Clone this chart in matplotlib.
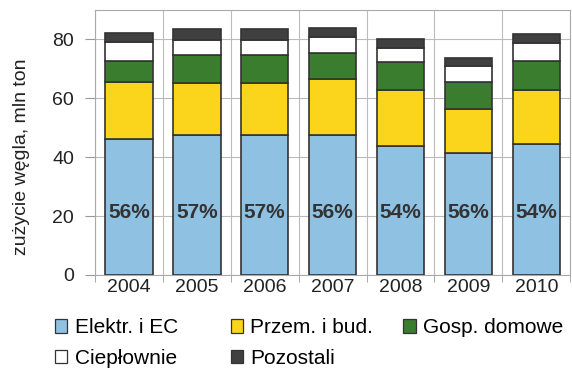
import matplotlib.pyplot as plt
import matplotlib.patches as mpatches
import numpy as np

plt.rcParams['font.family'] = ['Liberation Sans', 'DejaVu Sans']

# dane: zużycie węgla wg sektorów, mln ton
lata = ['2004', '2005', '2006', '2007', '2008', '2009', '2010']
elektr = [46.1, 47.5, 47.5, 47.5, 43.8, 41.4, 44.3]
przem = [19.5, 17.7, 17.7, 19.0, 19.1, 15.1, 18.4]
gosp = [7.2, 9.4, 9.4, 9.0, 9.4, 9.0, 10.1]
cieplownie = [6.3, 5.3, 5.3, 5.3, 4.9, 5.3, 5.9]
pozostali = [3.2, 3.5, 3.5, 3.0, 3.0, 2.9, 3.3]
udzial = ['56%', '57%', '57%', '56%', '54%', '56%', '54%']

serie = [
    ('Elektr. i EC', elektr, '#8fc1e3'),
    ('Przem. i bud.', przem, '#fbd51c'),
    ('Gosp. domowe', gosp, '#3b7d2f'),
    ('Ciepłownie', cieplownie, '#ffffff'),
    ('Pozostali', pozostali, '#404040'),
]

fig = plt.figure(figsize=(5.72, 3.69), dpi=100)
ax = fig.add_axes([0.166, 0.255, 0.831, 0.718])

x = np.arange(len(lata))
dol = np.zeros(len(lata))
uchwyty = {}
for nazwa, wart, kolor in serie:
    ax.bar(x, wart, bottom=dol, width=0.7, color=kolor,
           edgecolor='#333333', linewidth=1.2, zorder=3)
    dol += np.array(wart)
    uchwyty[nazwa] = mpatches.Patch(facecolor=kolor, edgecolor='#333333', linewidth=0.9)

for xi, txt in zip(x, udzial):
    ax.text(xi, 21.2, txt, ha='center', va='center', fontsize=15,
            fontweight='bold', color='#333333', zorder=4)

ax.set_xlim(-0.5, len(lata) - 0.5)
ax.set_ylim(0, 90)
ax.set_yticks([0, 20, 40, 60, 80])
ax.set_xticks(x)
ax.set_xticklabels(lata)
ax.set_xticks(np.arange(len(lata) + 1) - 0.5, minor=True)
ax.tick_params(axis='x', which='major', length=0, labelsize=14, pad=3, colors='#222222')
ax.tick_params(axis='x', which='minor', length=5, color='#999999')
ax.tick_params(axis='y', length=7, pad=8, color='#999999', labelsize=14, colors='#222222')
ax.grid(axis='y', color='#bbbbbb', linewidth=0.8, zorder=0)
ax.grid(axis='x', which='minor', color='#bbbbbb', linewidth=0.8, zorder=0)
for s in ax.spines.values():
    s.set_color('#aaaaaa')
ax.set_ylabel('zużycie węgla, mln ton', fontsize=14, color='#222222')
ax.yaxis.set_label_coords(-0.137, 0.447)

# legenda: trzy kolumny w stałych miejscach, 3 + 2 pozycje
kolumny = [(['Elektr. i EC', 'Ciepłownie'], 0.096),
           (['Przem. i bud.', 'Pozostali'], 0.403),
           (['Gosp. domowe'], 0.705)]
for nazwy, xpos in kolumny:
    leg = fig.legend([uchwyty[k] for k in nazwy], nazwy, loc='upper left',
                     bbox_to_anchor=(xpos, 0.137), frameon=False, fontsize=15,
                     handlelength=0.6, handleheight=0.6, handletextpad=0.35,
                     labelspacing=0.55, borderaxespad=0, borderpad=0)

fig.savefig('out.png', dpi=100)
